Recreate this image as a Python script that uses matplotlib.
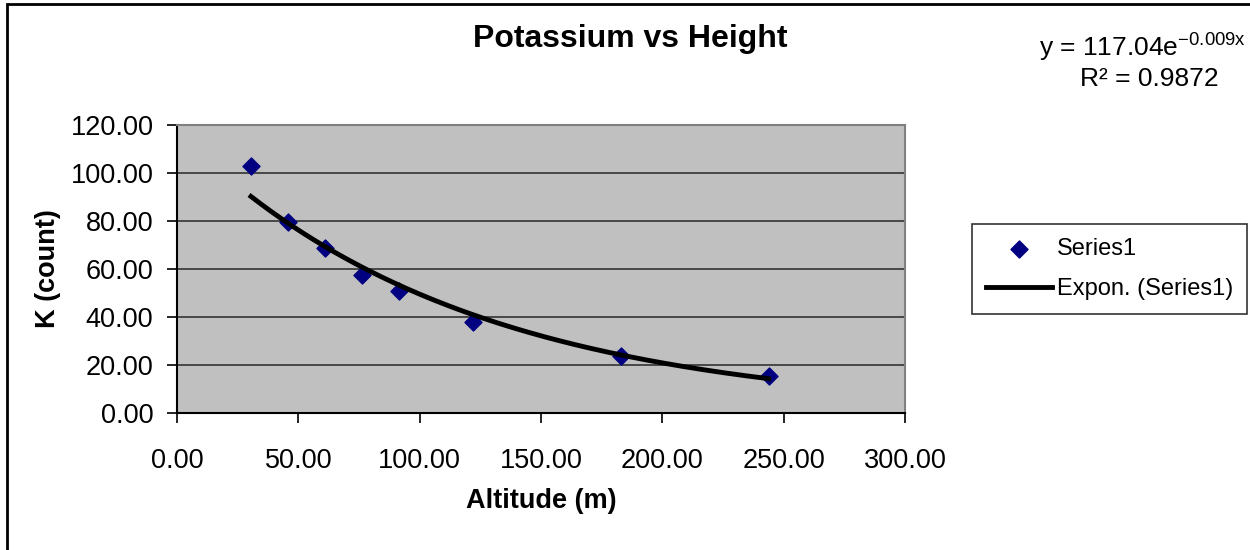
import numpy as np
import matplotlib
matplotlib.use("Agg")
import matplotlib.pyplot as plt
from matplotlib.patches import Rectangle

plt.rcParams["font.family"] = ["Liberation Sans", "DejaVu Sans"]

# altitude (m) and potassium count
altitude = [30.48, 45.72, 60.96, 76.2, 91.44, 121.92, 182.88, 243.84]
potassium = [102.9, 79.6, 68.7, 57.5, 50.8, 37.9, 23.8, 15.4]
xticks = [0, 50, 100, 150, 200, 250, 300]
yticks = [0, 20, 40, 60, 80, 100, 120]

# exponential trendline, fitted like excel does (log-linear)
b, log_a = np.polyfit(altitude, np.log(potassium), 1)
xfit = np.linspace(min(altitude), max(altitude), 200)
yfit = np.exp(log_a) * np.exp(b * xfit)

fig = plt.figure(figsize=(12.5, 5.5), dpi=100)
ax = fig.add_axes([0.1416, 0.249, 0.5824, 0.5237])
ax.set_facecolor("#C0C0C0")

ax.scatter(altitude, potassium, marker="D", s=75, color="#000080", zorder=3, label="Series1")
ax.plot(xfit, yfit, color="black", lw=3.5, zorder=4, label="Expon. (Series1)")

ax.set_xlim(0, 300)
ax.set_ylim(0, 120)
ax.set_xticks(xticks)
ax.set_yticks(yticks)
ax.set_xticklabels(["%.2f" % v for v in xticks])
ax.set_yticklabels(["%.2f" % v for v in yticks])
ax.tick_params(direction="out", length=7, width=1.2, labelsize=19.5)
ax.tick_params(axis="x", pad=18)
ax.tick_params(axis="y", pad=10)
ax.grid(axis="y", color="#333333", lw=1.2)
ax.set_axisbelow(True)
for s in ax.spines.values():
    s.set_color("#808080")
    s.set_linewidth(1.5)
ax.spines["left"].set_color("black")
ax.spines["bottom"].set_color("black")

ax.set_xlabel("Altitude (m)", fontsize=19.5, fontweight="bold", labelpad=10)
ax.set_ylabel("K (count)", fontsize=19.5, fontweight="bold", labelpad=7)
fig.text(0.504, 0.93, "Potassium vs Height", fontsize=23, fontweight="bold", ha="center", va="center")

fig.text(0.997, 0.915, r"y = 117.04e$^{\mathregular{-0.009x}}$", fontsize=19, ha="right", va="center")
fig.text(0.975, 0.857, "R² = 0.9872", fontsize=19, ha="right", va="center")

leg = ax.legend(loc="center left", bbox_to_anchor=(1.092, 0.50), fontsize=17, frameon=True,
                fancybox=False, edgecolor="black", handlelength=2.8, handletextpad=0.2,
                borderpad=0.6, labelspacing=0.75, borderaxespad=0)
leg.get_frame().set_linewidth(1.2)

fig.patches.append(Rectangle((7 / 1250, -0.1), 1.2, 1.1 - 4 / 550, transform=fig.transFigure,
                             fill=False, edgecolor="black", lw=2))

fig.savefig("out.png", dpi=100)
